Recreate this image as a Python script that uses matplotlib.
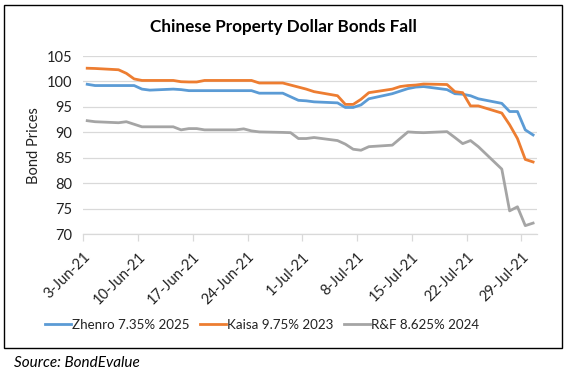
"""Chinese property dollar bond prices, Jun-Jul 2021 (Excel-style line chart)."""
import pandas as pd
import matplotlib
matplotlib.use('Agg')
import matplotlib.pyplot as plt
from matplotlib.patches import Rectangle
from matplotlib.lines import Line2D

plt.rcParams['font.family'] = ['Lato', 'DejaVu Sans']

# ---------- data ----------
dates = ['2021-06-03', '2021-06-04', '2021-06-07', '2021-06-08', '2021-06-09',
         '2021-06-10', '2021-06-11', '2021-06-14', '2021-06-15', '2021-06-16',
         '2021-06-17', '2021-06-18', '2021-06-21', '2021-06-22', '2021-06-23',
         '2021-06-24', '2021-06-25', '2021-06-28', '2021-06-29', '2021-06-30',
         '2021-07-01', '2021-07-02', '2021-07-05', '2021-07-06', '2021-07-07',
         '2021-07-08', '2021-07-09', '2021-07-12', '2021-07-13', '2021-07-14',
         '2021-07-15', '2021-07-16', '2021-07-19', '2021-07-20', '2021-07-21',
         '2021-07-22', '2021-07-23', '2021-07-26', '2021-07-27', '2021-07-28',
         '2021-07-29', '2021-07-30']
zhenro = [99.45, 99.2, 99.2, 99.2, 99.2, 98.5, 98.3, 98.5, 98.4, 98.2,
          98.2, 98.2, 98.2, 98.2, 98.2, 98.2, 97.7, 97.7, 97.0, 96.3,
          96.2, 96.0, 95.8, 94.9, 94.9, 95.4, 96.6, 97.6, 98.1, 98.6,
          98.9, 99.0, 98.4, 97.6, 97.5, 97.2, 96.6, 95.7, 94.1, 94.1,
          90.5, 89.5]
kaisa = [102.6, 102.55, 102.3, 101.6, 100.5, 100.2, 100.2, 100.2, 99.95, 99.9,
         99.9, 100.2, 100.2, 100.2, 100.2, 100.2, 99.7, 99.7, 99.3, 98.9,
         98.5, 98.0, 97.2, 95.5, 95.5, 96.5, 97.8, 98.5, 99.0, 99.2,
         99.3, 99.5, 99.4, 98.0, 97.8, 95.2, 95.2, 93.8, 91.5, 88.8,
         84.7, 84.2]
rnf = [92.3, 92.1, 91.9, 92.1, 91.6, 91.1, 91.1, 91.1, 90.5, 90.75,
       90.75, 90.5, 90.5, 90.5, 90.7, 90.3, 90.1, 90.0, 89.95, 88.8,
       88.8, 89.0, 88.4, 87.7, 86.7, 86.5, 87.2, 87.5, 88.8, 90.1,
       90.0, 89.95, 90.15, 89.0, 87.8, 88.4, 87.2, 82.8, 74.6, 75.4,
       71.7, 72.2]
series = [('Zhenro 7.35% 2025', zhenro, '#5B9BD5'),
          ('Kaisa 9.75% 2023', kaisa, '#ED7D31'),
          ('R&F 8.625% 2024', rnf, '#A5A5A5')]
tick_dates = ['2021-06-03', '2021-06-10', '2021-06-17', '2021-06-24', '2021-07-01',
              '2021-07-08', '2021-07-15', '2021-07-22', '2021-07-29']
tick_labels = ['3-Jun-21', '10-Jun-21', '17-Jun-21', '24-Jun-21', '1-Jul-21',
               '8-Jul-21', '15-Jul-21', '22-Jul-21', '29-Jul-21']

# Excel date axis: each day is a bin, points sit mid-bin, ticks on bin edges
t0 = pd.Timestamp(dates[0])
x = [(pd.Timestamp(d) - t0).days + 0.5 for d in dates]
xt = [(pd.Timestamp(d) - t0).days for d in tick_dates]
xmax = (pd.Timestamp(dates[-1]) - t0).days + 1

W, H = 568, 377
fig = plt.figure(figsize=(W / 100, H / 100), dpi=100)
fig.patches.append(Rectangle((4 / W, 1 - 348 / H), 558 / W, 343 / H,
                             transform=fig.transFigure, fill=False,
                             ec='black', lw=1.0))

ax = fig.add_axes([83.3 / W, 1 - 234.3 / H, 453.7 / W, 178.3 / H])
for label, vals, col in series:
    ax.plot(x, vals, color=col, lw=2.0, label=label, solid_joinstyle='round')

ax.set_xlim(0, xmax)
ax.set_ylim(70, 105)
ax.set_yticks(range(70, 106, 5))
ax.grid(axis='y', color='#D9D9D9', lw=0.9)
ax.set_axisbelow(True)
for s in ['top', 'right', 'left']:
    ax.spines[s].set_visible(False)
ax.spines['bottom'].set_color('#D9D9D9')
ax.spines['bottom'].set_linewidth(0.9)
ax.tick_params(axis='y', length=0, pad=8, labelsize=10.5, labelcolor='#222222')
ax.tick_params(axis='x', length=5, color='#D9D9D9', width=0.9, pad=6,
               labelsize=10.5, labelcolor='#222222')
ax.set_xticks(xt)
ax.set_xticklabels(tick_labels, rotation=45, ha='right', rotation_mode='anchor')
ax.set_ylabel('Bond Prices', fontsize=10.5, color='#222222', labelpad=4)

fig.text(283 / W, 1 - 27 / H, 'Chinese Property Dollar Bonds Fall',
         ha='center', va='center', fontsize=12.3, fontweight='bold')

handles = [Line2D([], [], color=c, lw=2.0) for _, _, c in series]
fig.legend(handles, [s[0] for s in series], loc='center', ncol=3,
           bbox_to_anchor=(262 / W, 1 - 325 / H), frameon=False,
           fontsize=9.6, handlelength=1.95, handletextpad=0.1,
           columnspacing=0.75, labelcolor='#222222')

fig.text(14 / W, 1 - 363 / H, 'Source: BondEvalue', ha='left', va='center',
         fontsize=11, style='italic')

fig.savefig('out.png', dpi=100)
